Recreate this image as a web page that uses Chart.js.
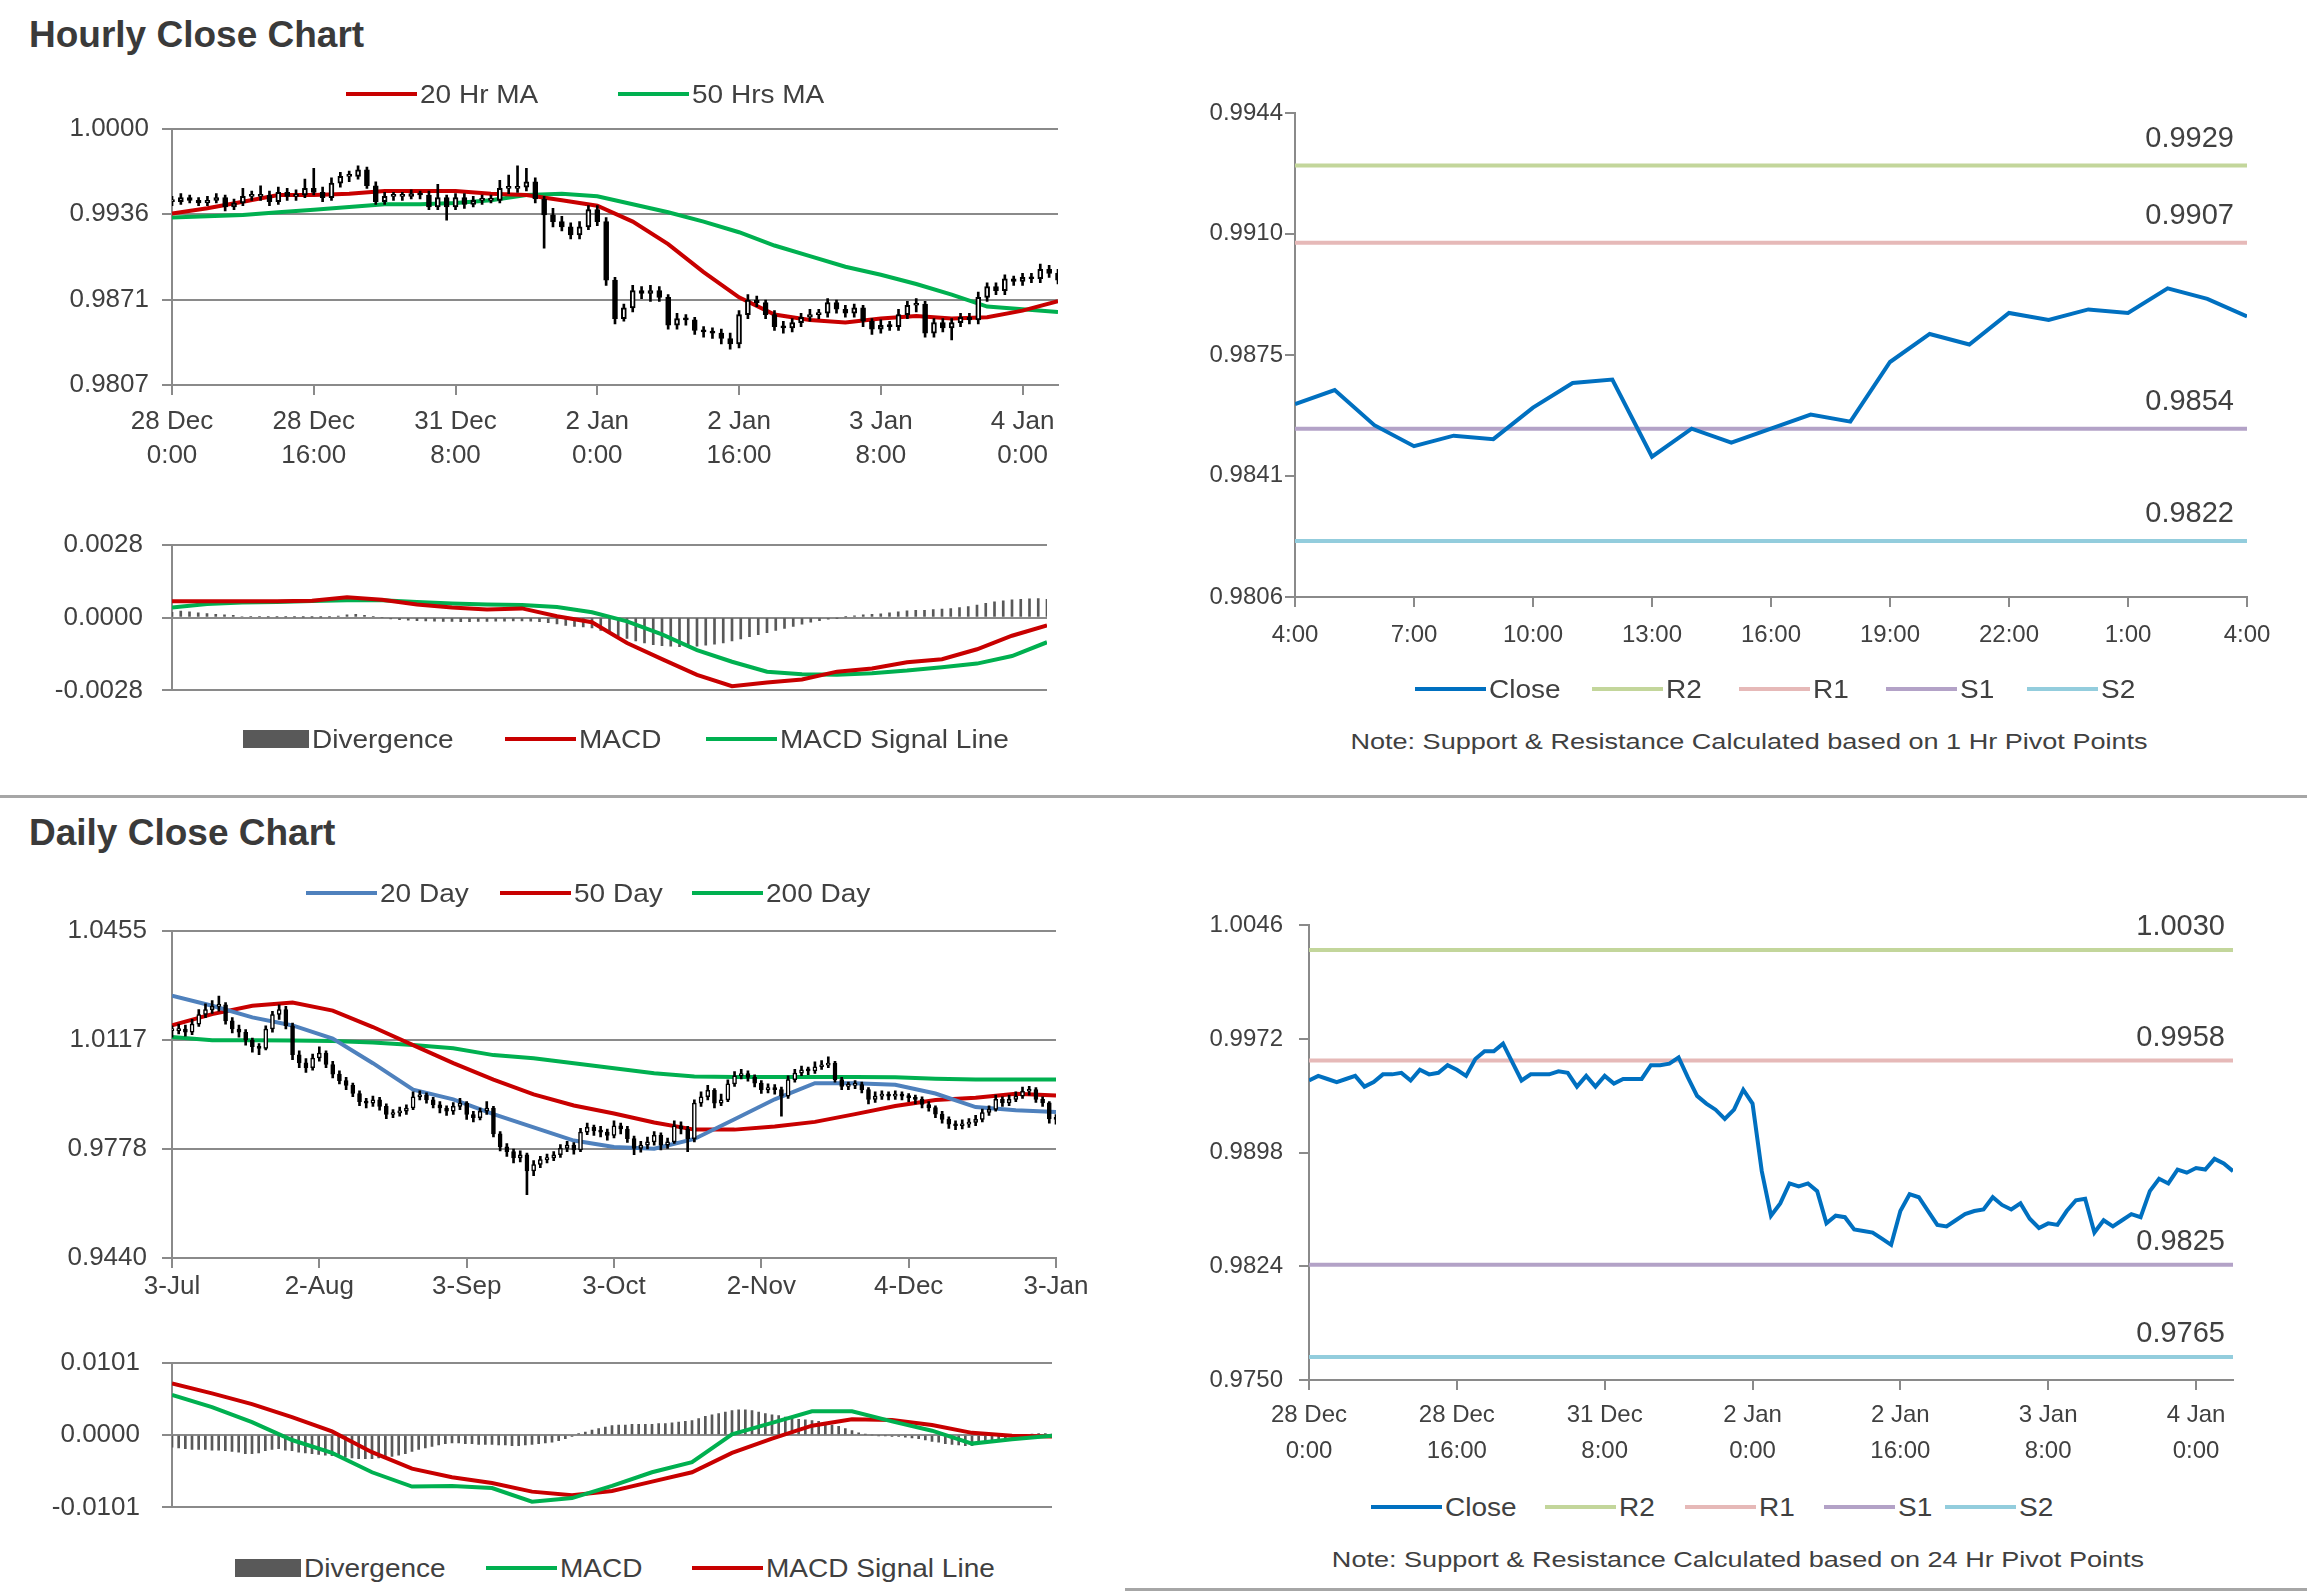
<!DOCTYPE html>
<html>
<head>
<meta charset="utf-8">
<title>Hourly / Daily Close Charts</title>
<script src="https://cdn.jsdelivr.net/npm/chart.js@4.4.1/dist/chart.umd.min.js"></script>
<style>
  body { margin:0; width:2307px; height:1595px; background:#fff; position:relative; overflow:hidden;
         font-family:"Liberation Sans", Arial, sans-serif; color:#404040; }
  canvas { position:absolute; }
  .title { position:absolute; left:29px; font-size:37px; font-weight:bold; color:#3a3a3a; line-height:1; }
  .lg { position:absolute; display:flex; align-items:center; height:30px; font-size:25px; white-space:nowrap; z-index:2; }
  .lg i { display:block; flex:none; }
  .lg span { display:inline-block; margin-left:3px; transform:scaleX(1.12); transform-origin:left center; }
  .note { position:absolute; width:1200px; text-align:center; font-size:22px; line-height:1; transform:scaleX(1.23); }
  .rule { position:absolute; background:#a6a6a6; }
</style>
</head>
<body>
<div class="title" style="top:16px">Hourly Close Chart</div>
<div class="title" style="top:814px">Daily Close Chart</div>
<div class="rule" style="left:0;top:795px;width:2307px;height:3px"></div>
<div class="rule" style="left:1125px;top:1588px;width:1182px;height:3px"></div>
<div class="note" style="left:1149px;top:731px">Note: Support &amp; Resistance Calculated based on 1 Hr Pivot Points</div>
<div class="note" style="left:1138px;top:1549px">Note: Support &amp; Resistance Calculated based on 24 Hr Pivot Points</div>
<script>
// ---------- hourly data (28 Dec 0:00 .. 4 Jan, one point per hour) ----------
var hourTickIdx = [0, 16, 32, 48, 64, 80, 96];
var hourTickLabels = [['28 Dec', '0:00'], ['28 Dec', '16:00'], ['31 Dec', '8:00'], ['2 Jan', '0:00'],
                      ['2 Jan', '16:00'], ['3 Jan', '8:00'], ['4 Jan', '0:00']];

// hourly closes: candles of the hourly chart and the line of the 24 Hr pivot chart
var closeHourly = [
  0.9945,0.9948,0.9946,0.9944,0.9946,0.9948,0.9941,0.9944,0.9949,0.9949,
  0.9950,0.9945,0.9952,0.9949,0.9950,0.9955,0.9952,0.9948,0.9959,0.9964,
  0.9964,0.9969,0.9957,0.9945,0.9949,0.9949,0.9949,0.9951,0.9950,0.9941,
  0.9948,0.9941,0.9948,0.9943,0.9946,0.9946,0.9946,0.9955,0.9955,0.9956,
  0.9960,0.9947,0.9935,0.9930,0.9926,0.9920,0.9926,0.9939,0.9930,0.9886,
  0.9857,0.9865,0.9878,0.9876,0.9878,0.9873,0.9852,0.9857,0.9856,0.9848,
  0.9847,0.9846,0.9842,0.9838,0.9860,0.9871,0.9869,0.9860,0.9851,0.9850,
  0.9854,0.9858,0.9860,0.9861,0.9869,0.9864,0.9861,0.9865,0.9855,0.9849,
  0.9852,0.9851,0.9860,0.9867,0.9868,0.9846,0.9854,0.9850,0.9854,0.9858,
  0.9856,0.9873,0.9881,0.9878,0.9887,0.9885,0.9888,0.9887,0.9894,0.9891,
  0.9886];
var highHourly = [
  0.9949,0.9951,0.9950,0.9948,0.9949,0.9951,0.9950,0.9947,0.9955,0.9953,
  0.9957,0.9953,0.9956,0.9955,0.9954,0.9962,0.9970,0.9956,0.9963,0.9967,
  0.9968,0.9972,0.9971,0.9960,0.9952,0.9952,0.9952,0.9954,0.9953,0.9953,
  0.9958,0.9950,0.9951,0.9951,0.9949,0.9950,0.9950,0.9961,0.9965,0.9972,
  0.9970,0.9963,0.9949,0.9940,0.9934,0.9929,0.9930,0.9942,0.9942,0.9933,
  0.9888,0.9868,0.9882,0.9881,0.9882,0.9881,0.9875,0.9861,0.9860,0.9858,
  0.9851,0.9850,0.9849,0.9846,0.9863,0.9875,0.9874,0.9871,0.9863,0.9855,
  0.9857,0.9861,0.9864,0.9864,0.9872,0.9871,0.9867,0.9868,0.9867,0.9857,
  0.9856,0.9855,0.9864,0.9870,0.9872,0.9870,0.9857,0.9857,0.9857,0.9861,
  0.9861,0.9877,0.9884,0.9884,0.9890,0.9889,0.9891,0.9891,0.9898,0.9897,
  0.9894];
var lowHourly = [
  0.9942,0.9943,0.9944,0.9942,0.9942,0.9944,0.9938,0.9939,0.9942,0.9946,
  0.9946,0.9942,0.9943,0.9946,0.9946,0.9948,0.9950,0.9945,0.9946,0.9956,
  0.9960,0.9962,0.9955,0.9943,0.9943,0.9946,0.9946,0.9947,0.9947,0.9939,
  0.9939,0.9931,0.9939,0.9940,0.9941,0.9943,0.9944,0.9944,0.9951,0.9952,
  0.9953,0.9944,0.9910,0.9926,0.9923,0.9917,0.9917,0.9924,0.9927,0.9882,
  0.9853,0.9855,0.9862,0.9872,0.9870,0.9870,0.9849,0.9849,0.9852,0.9845,
  0.9843,0.9842,0.9838,0.9834,0.9835,0.9857,0.9866,0.9857,0.9848,0.9846,
  0.9847,0.9851,0.9855,0.9857,0.9858,0.9861,0.9858,0.9858,0.9851,0.9845,
  0.9846,0.9848,0.9848,0.9857,0.9862,0.9843,0.9843,0.9847,0.9841,0.9851,
  0.9853,0.9853,0.9870,0.9875,0.9875,0.9882,0.9882,0.9884,0.9884,0.9888,
  0.9883];

// moving averages / MACD read every 4 hours
var hourSampleIdx = [0,4,8,12,16,20,24,28,32,36,40,44,48,52,56,60,64,68,72,76,80,84,88,92,96,100];
var ma20Hour = [0.9936,0.9940,0.9945,0.9950,0.9950,0.9951,0.9953,0.9953,0.9953,0.9951,0.9950,0.9946,0.9942,
                0.9930,0.9913,0.9892,0.9873,0.9860,0.9856,0.9854,0.9857,0.9859,0.9857,0.9858,0.9863,0.9870];
var ma50Hour = [0.9933,0.9934,0.9935,0.9937,0.9939,0.9941,0.9943,0.9943,0.9944,0.9946,0.9950,0.9951,0.9949,
                0.9943,0.9937,0.9930,0.9922,0.9912,0.9904,0.9896,0.9890,0.9883,0.9875,0.9866,0.9864,0.9862];
var macdHour = [0.00062,0.00062,0.00062,0.00062,0.00064,0.00078,0.00068,0.00050,0.00038,0.00031,0.00035,0.00005,-0.00018,
                -0.00098,-0.00160,-0.00220,-0.00264,-0.00250,-0.00238,-0.00208,-0.00196,-0.00172,-0.00160,-0.00122,-0.00070,-0.00030];
var signalHour = [0.00038,0.00052,0.00058,0.00060,0.00063,0.00066,0.00066,0.00060,0.00054,0.00050,0.00048,0.00040,0.00020,
                  -0.00015,-0.00065,-0.00125,-0.00170,-0.00208,-0.00218,-0.00220,-0.00214,-0.00204,-0.00191,-0.00177,-0.00148,-0.00095];
var divHour = [
  0.00020,0.00025,0.00022,0.00018,0.00015,0.00012,0.00010,0.00008,
  0.00004,0.00003,0.00003,0.00002,0.00002,0.00002,0.00002,0.00001,0.00001,0.00001,0.00002,0.00005,
  0.00010,0.00012,0.00008,0.00003,0.00000,
  -0.00005,-0.00008,-0.00010,-0.00012,-0.00013,-0.00014,-0.00015,-0.00015,-0.00016,-0.00016,
  -0.00015,-0.00015,-0.00014,-0.00014,-0.00013,-0.00013,-0.00014,-0.00016,
  -0.00020,-0.00025,-0.00030,-0.00034,-0.00036,-0.00040,-0.00050,-0.00060,-0.00070,-0.00080,
  -0.00090,-0.00098,-0.00104,-0.00108,-0.00110,-0.00112,-0.00112,-0.00110,-0.00106,-0.00102,
  -0.00098,-0.00090,-0.00082,-0.00074,-0.00066,-0.00058,-0.00050,-0.00042,-0.00034,-0.00026,
  -0.00018,-0.00012,-0.00006,-0.00002,0.00002,0.00006,0.00010,0.00012,
  0.00014,0.00018,0.00022,0.00026,0.00028,0.00028,0.00030,0.00032,0.00034,0.00038,
  0.00042,0.00048,0.00054,0.00060,0.00064,0.00068,0.00070,0.00072,0.00073,0.00070];

// 1 Hr pivot chart: last 24 hours
var lastDayTickIdx = [0, 3, 6, 9, 12, 15, 18, 21, 24];
var lastDayTickLabels = ['4:00', '7:00', '10:00', '13:00', '16:00', '19:00', '22:00', '1:00', '4:00'];
var closeLast24h = [0.9861,0.9865,0.9855,0.9849,0.9852,0.9851,0.9860,0.9867,0.9868,0.9846,0.9854,0.9850,0.9854,
                    0.9858,0.9856,0.9873,0.9881,0.9878,0.9887,0.9885,0.9888,0.9887,0.9894,0.9891,0.9886];
var pivot1hLevels = [0.9929, 0.9907, 0.9854, 0.9822];   // R2, R1, S1, S2
var pivot24hLevels = [1.0030, 0.9958, 0.9825, 0.9765];  // R2, R1, S1, S2

// ---------- daily data (3-Jul .. 3-Jan) ----------
var dayTickIdx = [0, 22, 44, 66, 88, 110, 132];
var dayTickLabels = ['3-Jul', '2-Aug', '3-Sep', '3-Oct', '2-Nov', '4-Dec', '3-Jan'];
var closeDaily = [
  1.0145,1.0150,1.0140,1.0165,1.0195,1.0210,1.0220,1.0225,1.0175,1.0150,
  1.0140,1.0115,1.0095,1.0090,1.0150,1.0195,1.0210,1.0160,1.0070,1.0045,
  1.0030,1.0060,1.0075,1.0040,1.0010,0.9990,0.9975,0.9950,0.9925,0.9920,
  0.9930,0.9910,0.9885,0.9890,0.9895,0.9905,0.9940,0.9945,0.9930,0.9915,
  0.9905,0.9895,0.9910,0.9920,0.9885,0.9875,0.9895,0.9905,0.9825,0.9785,
  0.9770,0.9750,0.9760,0.9710,0.9730,0.9745,0.9750,0.9760,0.9780,0.9790,
  0.9775,0.9830,0.9845,0.9835,0.9830,0.9820,0.9850,0.9840,0.9810,0.9780,
  0.9790,0.9800,0.9820,0.9790,0.9800,0.9850,0.9840,0.9810,0.9920,0.9940,
  0.9960,0.9920,0.9930,0.9980,1.0005,1.0012,1.0000,0.9982,0.9962,0.9967,
  0.9962,0.9942,0.9993,1.0013,1.0023,1.0020,1.0033,1.0038,1.0044,0.9993,
  0.9972,0.9975,0.9978,0.9962,0.9932,0.9942,0.9947,0.9942,0.9947,0.9942,
  0.9937,0.9932,0.9916,0.9906,0.9886,0.9870,0.9855,0.9850,0.9855,0.9860,
  0.9870,0.9891,0.9901,0.9932,0.9921,0.9932,0.9942,0.9957,0.9962,0.9932,
  0.9921,0.9871,0.9870];
var highDaily = [
  1.0160,1.0165,1.0162,1.0180,1.0210,1.0228,1.0238,1.0252,1.0232,1.0185,
  1.0162,1.0148,1.0122,1.0105,1.0160,1.0205,1.0225,1.0220,1.0168,1.0082,
  1.0058,1.0072,1.0095,1.0082,1.0050,1.0020,1.0000,0.9982,0.9958,0.9935,
  0.9942,0.9938,0.9918,0.9900,0.9908,0.9915,0.9955,0.9958,0.9952,0.9938,
  0.9925,0.9912,0.9922,0.9935,0.9925,0.9895,0.9905,0.9925,0.9910,0.9832,
  0.9795,0.9778,0.9772,0.9765,0.9742,0.9755,0.9762,0.9770,0.9792,0.9802,
  0.9798,0.9842,0.9858,0.9852,0.9848,0.9840,0.9865,0.9858,0.9848,0.9818,
  0.9802,0.9815,0.9832,0.9828,0.9812,0.9865,0.9862,0.9848,0.9930,0.9955,
  0.9975,0.9965,0.9948,0.9992,1.0018,1.0025,1.0020,1.0008,0.9990,0.9980,
  0.9978,0.9970,1.0005,1.0025,1.0035,1.0032,1.0048,1.0052,1.0064,1.0050,
  1.0000,0.9985,0.9990,0.9985,0.9968,0.9955,0.9958,0.9955,0.9958,0.9955,
  0.9950,0.9945,0.9940,0.9925,0.9912,0.9895,0.9878,0.9865,0.9868,0.9872,
  0.9882,0.9902,0.9912,0.9945,0.9940,0.9945,0.9955,0.9970,0.9972,0.9968,
  0.9940,0.9925,0.9885];
var lowDaily = [
  1.0125,1.0135,1.0128,1.0132,1.0158,1.0185,1.0198,1.0205,1.0165,1.0138,
  1.0125,1.0100,1.0078,1.0070,1.0085,1.0140,1.0180,1.0150,1.0055,1.0030,
  1.0015,1.0022,1.0050,1.0030,0.9998,0.9980,0.9962,0.9940,0.9912,0.9905,
  0.9910,0.9898,0.9872,0.9875,0.9880,0.9885,0.9900,0.9930,0.9920,0.9905,
  0.9890,0.9882,0.9885,0.9900,0.9870,0.9862,0.9868,0.9885,0.9815,0.9772,
  0.9755,0.9735,0.9738,0.9636,0.9695,0.9720,0.9735,0.9742,0.9752,0.9770,
  0.9762,0.9770,0.9822,0.9820,0.9815,0.9805,0.9812,0.9825,0.9798,0.9760,
  0.9768,0.9778,0.9790,0.9775,0.9780,0.9795,0.9825,0.9770,0.9800,0.9910,
  0.9930,0.9905,0.9912,0.9925,0.9972,0.9995,0.9988,0.9970,0.9950,0.9952,
  0.9948,0.9880,0.9935,0.9985,1.0005,1.0008,1.0012,1.0025,1.0030,0.9985,
  0.9962,0.9962,0.9965,0.9952,0.9918,0.9922,0.9932,0.9930,0.9932,0.9930,
  0.9925,0.9918,0.9905,0.9895,0.9875,0.9858,0.9842,0.9838,0.9840,0.9845,
  0.9850,0.9862,0.9882,0.9895,0.9910,0.9912,0.9925,0.9935,0.9945,0.9922,
  0.9910,0.9858,0.9855];

// moving averages / MACD read every 6 days
var daySampleIdx = [0,6,12,18,24,30,36,42,48,54,60,66,72,78,84,90,96,102,108,114,120,126,132];
var ma20Day = [1.0253,1.0222,1.0186,1.0161,1.0120,1.0044,0.9962,0.9932,0.9886,0.9845,0.9804,0.9784,
               0.9779,0.9809,0.9870,0.9932,0.9982,0.9982,0.9977,0.9950,0.9908,0.9898,0.9893];
var ma50Day = [1.0161,1.0196,1.0222,1.0232,1.0207,1.0156,1.0100,1.0044,0.9993,0.9947,0.9913,0.9888,
               0.9860,0.9838,0.9838,0.9848,0.9862,0.9886,0.9911,0.9930,0.9937,0.9949,0.9944];
var ma200Day = [1.0125,1.0115,1.0115,1.0114,1.0113,1.0108,1.0100,1.0090,1.0069,1.0059,1.0044,1.0028,
                1.0013,1.0003,1.0001,1.0001,1.0001,1.0001,1.0000,0.9996,0.9993,0.9993,0.9993];
var macdDay = [0.0056,0.0039,0.0018,-0.0007,-0.0025,-0.0052,-0.0072,-0.0071,-0.0074,-0.0093,-0.0088,-0.0071,
               -0.0052,-0.0038,0.0001,0.0017,0.0033,0.0033,0.0019,0.0006,-0.0012,-0.0006,-0.0001];
var signalDay = [0.0072,0.0058,0.0043,0.0025,0.0005,-0.0024,-0.0047,-0.0059,-0.0067,-0.0079,-0.0084,-0.0078,
                 -0.0065,-0.0052,-0.0025,-0.0005,0.0013,0.0022,0.0021,0.0014,0.0003,-0.0001,-0.0002];
var divDay = [
  -0.0017,-0.0018,-0.0019,-0.0020,-0.0020,-0.0020,-0.0021,-0.0021,-0.0022,-0.0023,
  -0.0024,-0.0026,-0.0026,-0.0025,-0.0022,-0.0020,-0.0019,-0.0021,-0.0022,-0.0024,
  -0.0025,-0.0026,-0.0027,-0.0028,-0.0029,-0.0030,-0.0031,-0.0032,-0.0033,-0.0033,
  -0.0033,-0.0032,-0.0031,-0.0030,-0.0028,-0.0026,-0.0023,-0.0020,-0.0018,-0.0016,
  -0.0014,-0.0012,-0.0011,-0.0011,-0.0012,-0.0012,-0.0013,-0.0013,-0.0013,-0.0014,
  -0.0014,-0.0015,-0.0015,-0.0014,-0.0013,-0.0012,-0.0011,-0.0010,-0.0008,-0.0005,
  -0.0002,0.0002,0.0004,0.0007,0.0009,0.0011,0.0013,0.0014,0.0014,0.0015,
  0.0015,0.0015,0.0015,0.0016,0.0016,0.0017,0.0018,0.0019,0.0020,0.0023,
  0.0026,0.0028,0.0030,0.0032,0.0034,0.0035,0.0035,0.0034,0.0032,0.0030,
  0.0028,0.0027,0.0025,0.0024,0.0022,0.0021,0.0020,0.0019,0.0017,0.0014,
  0.0012,0.0009,0.0006,0.0003,0.0001,0.0000,-0.0001,-0.0001,-0.0002,-0.0002,
  -0.0003,-0.0004,-0.0005,-0.0007,-0.0009,-0.0010,-0.0012,-0.0013,-0.0014,-0.0015,
  -0.0015,-0.0012,-0.0009,-0.0007,-0.0005,-0.0004,-0.0003,-0.0002,-0.0001,0.0001,
  0.0002,0.0002,0.0001];

// axis tick values
var hourYTicks = [0.9807, 0.98713, 0.99357, 1.0000];
var macdHourYTicks = [-0.0028, 0, 0.0028];
var pivot1hYTicks = [0.9806, 0.98406, 0.9875, 0.99096, 0.9944];
var dayYTicks = [0.9440, 0.97783, 1.01167, 1.0455];
var macdDayYTicks = [-0.0101, 0, 0.0101];
var pivot24hYTicks = [0.9750, 0.9824, 0.9898, 0.9972, 1.0046];

// ---------- styling ----------
var FONT = '"Liberation Sans", Arial, sans-serif';
var TXT = '#404040';
var GRID = '#8a8a8a';
var RED = '#c80000', GREEN = '#00b050', BLUE20 = '#4f81bd', CLOSE = '#0070c0';
var LEVEL_COLORS = ['#c3d69b', '#e6b9b8', '#b3a2c7', '#93cddd'];
var DIV = '#595959';

function addCanvas(id, box) {
  var c = document.createElement('canvas');
  c.id = id;
  c.width = box.w; c.height = box.h;
  c.style.left = box.l + 'px'; c.style.top = box.t + 'px';
  c.style.width = box.w + 'px'; c.style.height = box.h + 'px';
  document.body.appendChild(c);
  return c;
}

function legendItem(left, cy, color, text, isBox) {
  var d = document.createElement('div');
  d.className = 'lg';
  d.style.left = left + 'px';
  d.style.top = (cy - 15) + 'px';
  var m = document.createElement('i');
  m.style.width = (isBox ? 66 : 71) + 'px';
  m.style.height = (isBox ? 18 : 4) + 'px';
  m.style.background = color;
  var t = document.createElement('span');
  t.textContent = text;
  d.appendChild(m); d.appendChild(t);
  document.body.appendChild(d);
}

function points(idx, vals) {
  return idx.map(function (x, k) { return {x: x, y: vals[k]}; });
}
function everyPoint(vals) {
  return vals.map(function (v, i) { return {x: i, y: v}; });
}
function lineSet(data, color) {
  return {type: 'line', data: data, borderColor: color, borderWidth: 4, pointRadius: 0, tension: 0, fill: false};
}
function levelSets(levels, lastIdx) {
  return levels.map(function (v, k) {
    return lineSet([{x: 0, y: v}, {x: lastIdx, y: v}], LEVEL_COLORS[k]);
  });
}
function candleSets(close, high, low, bodyW, edge) {
  var bodies = [], wicks = [], fills = [];
  for (var i = 0; i < close.length; i++) {
    var open = i > 0 ? close[i - 1] : close[i];   // open taken as prior close
    bodies.push({x: i, y: [open, close[i]]});
    wicks.push({x: i, y: [low[i], high[i]]});
    fills.push(close[i] >= open ? '#ffffff' : '#000000');
  }
  return [
    {type: 'bar', data: bodies, backgroundColor: fills, borderColor: '#000', borderWidth: edge,
     borderSkipped: false, barThickness: bodyW, minBarLength: 2, grouped: false},
    {type: 'bar', data: wicks, backgroundColor: '#000', barThickness: 2, grouped: false}
  ];
}
function histSet(vals) {
  return {type: 'bar', data: everyPoint(vals), backgroundColor: DIV, barThickness: 2, grouped: false};
}

function xAxis(box, max, idx, labels, size, lh, pad) {
  return {
    type: 'linear', min: 0, max: max, offset: false,
    afterBuildTicks: function (s) { s.ticks = idx.map(function (v) { return {value: v}; }); },
    afterFit: function (s) { s.height = box.t + box.h - box.pb; },
    ticks: {autoSkip: false, maxRotation: 0, color: TXT, padding: pad,
            font: {family: FONT, size: size, lineHeight: lh},
            callback: function (v, i) { return labels[i]; }},
    grid: {drawOnChartArea: false, drawTicks: true, tickLength: 10, color: GRID, lineWidth: 2, offset: false},
    border: {display: true, color: GRID, width: 2}
  };
}
function hiddenX(max) {
  return {type: 'linear', min: 0, max: max, offset: false, grid: {offset: false}, display: false};
}
function yAxis(box, vals, size, pad, gridOn) {
  return {
    type: 'linear', min: vals[0], max: vals[vals.length - 1],
    afterBuildTicks: function (s) { s.ticks = vals.map(function (v) { return {value: v}; }); },
    afterFit: function (s) { s.width = box.pl - box.l; },
    ticks: {color: TXT, padding: pad, font: {family: FONT, size: size},
            callback: function (v) { return v.toFixed(4); }},
    grid: {drawOnChartArea: gridOn, drawTicks: true, tickLength: 10, color: GRID, lineWidth: 2},
    border: {display: true, color: GRID, width: 2}
  };
}

// value labels over the support / resistance lines
var levelLabels = {
  id: 'levelLabels',
  afterDatasetsDraw: function (chart, args, opts) {
    var ctx = chart.ctx, xs = chart.scales.x, ys = chart.scales.y;
    ctx.save();
    ctx.font = '29px ' + FONT;
    ctx.fillStyle = TXT;
    ctx.textAlign = 'right';
    ctx.textBaseline = 'middle';
    opts.values.forEach(function (v) {
      ctx.fillText(v.toFixed(4), xs.right - opts.inset, ys.getPixelForValue(v) - opts.rise);
    });
    ctx.restore();
  }
};

function makeChart(id, box, datasets, xs, ys, labelOpts) {
  var canvas = addCanvas(id, box);
  var opts = {
    responsive: false, animation: false, devicePixelRatio: 1, events: [],
    layout: {padding: {top: box.pt - box.t, right: box.l + box.w - box.pr, left: 0,
                       bottom: xs.display === false ? box.t + box.h - box.pb : 0}},
    plugins: {legend: {display: false}, tooltip: {enabled: false}},
    scales: {x: xs, y: ys}
  };
  var plugins = [];
  if (labelOpts) { opts.plugins.levelLabels = labelOpts; plugins.push(levelLabels); }
  return new Chart(canvas, {type: 'line', data: {datasets: datasets}, options: opts, plugins: plugins});
}

// ---------- panels ----------
var boxHour = {l: 0, t: 100, w: 1110, h: 400, pl: 172, pt: 127, pr: 1058, pb: 385};
makeChart('hourly', boxHour,
  candleSets(closeHourly, highHourly, lowHourly, 5, 2).concat([
    lineSet(points(hourSampleIdx, ma20Hour), RED),
    lineSet(points(hourSampleIdx, ma50Hour), GREEN)
  ]),
  xAxis(boxHour, 100, hourTickIdx, hourTickLabels, 26, 1.3, 10),
  yAxis(boxHour, hourYTicks, 26, 13, true));

var boxHourMacd = {l: 0, t: 510, w: 1100, h: 215, pl: 172, pt: 533, pr: 1047, pb: 715};
makeChart('hourlyMacd', boxHourMacd, [
    lineSet(points(hourSampleIdx, macdHour), RED),
    lineSet(points(hourSampleIdx, signalHour), GREEN),
    histSet(divHour)
  ],
  hiddenX(100),
  yAxis(boxHourMacd, macdHourYTicks, 26, 19, true));

var boxPivot1h = {l: 1140, t: 90, w: 1167, h: 590, pl: 1295, pt: 113, pr: 2247, pb: 597};
makeChart('pivot1h', boxPivot1h,
  [lineSet(everyPoint(closeLast24h), CLOSE)].concat(levelSets(pivot1hLevels, 24)),
  xAxis(boxPivot1h, 24, lastDayTickIdx, lastDayTickLabels, 24, 1.2, 14),
  yAxis(boxPivot1h, pivot1hYTicks, 24, 2, false),
  {values: pivot1hLevels, inset: 13, rise: 27});

var boxDay = {l: 0, t: 900, w: 1110, h: 410, pl: 172, pt: 924, pr: 1056, pb: 1258};
makeChart('daily', boxDay,
  candleSets(closeDaily, highDaily, lowDaily, 4, 1.5).concat([
    lineSet(points(daySampleIdx, ma20Day), BLUE20),
    lineSet(points(daySampleIdx, ma50Day), RED),
    lineSet(points(daySampleIdx, ma200Day), GREEN)
  ]),
  xAxis(boxDay, 132, dayTickIdx, dayTickLabels, 26, 1.2, 3),
  yAxis(boxDay, dayYTicks, 26, 15, true));

var boxDayMacd = {l: 0, t: 1325, w: 1100, h: 220, pl: 172, pt: 1348, pr: 1052, pb: 1533};
makeChart('dailyMacd', boxDayMacd, [
    lineSet(points(daySampleIdx, macdDay), GREEN),
    lineSet(points(daySampleIdx, signalDay), RED),
    histSet(divDay)
  ],
  hiddenX(132),
  yAxis(boxDayMacd, macdDayYTicks, 26, 22, true));

var boxPivot24h = {l: 1140, t: 895, w: 1167, h: 590, pl: 1309, pt: 918, pr: 2233, pb: 1380};
makeChart('pivot24h', boxPivot24h,
  [lineSet(everyPoint(closeHourly), CLOSE)].concat(levelSets(pivot24hLevels, 100)),
  xAxis(boxPivot24h, 100, hourTickIdx, hourTickLabels, 24, 1.5, 7),
  yAxis(boxPivot24h, pivot24hYTicks, 24, 16, false),
  {values: pivot24hLevels, inset: 8, rise: 23});

// ---------- legends ----------
legendItem(346, 94, RED, '20 Hr MA');
legendItem(618, 94, GREEN, '50 Hrs MA');

legendItem(243, 739, DIV, 'Divergence', true);
legendItem(505, 739, RED, 'MACD');
legendItem(706, 739, GREEN, 'MACD Signal Line');

legendItem(1415, 689, CLOSE, 'Close');
legendItem(1592, 689, LEVEL_COLORS[0], 'R2');
legendItem(1739, 689, LEVEL_COLORS[1], 'R1');
legendItem(1886, 689, LEVEL_COLORS[2], 'S1');
legendItem(2027, 689, LEVEL_COLORS[3], 'S2');

legendItem(306, 893, BLUE20, '20 Day');
legendItem(500, 893, RED, '50 Day');
legendItem(692, 893, GREEN, '200 Day');

legendItem(235, 1568, DIV, 'Divergence', true);
legendItem(486, 1568, GREEN, 'MACD');
legendItem(692, 1568, RED, 'MACD Signal Line');

legendItem(1371, 1507, CLOSE, 'Close');
legendItem(1545, 1507, LEVEL_COLORS[0], 'R2');
legendItem(1685, 1507, LEVEL_COLORS[1], 'R1');
legendItem(1824, 1507, LEVEL_COLORS[2], 'S1');
legendItem(1945, 1507, LEVEL_COLORS[3], 'S2');
</script>
</body>
</html>
